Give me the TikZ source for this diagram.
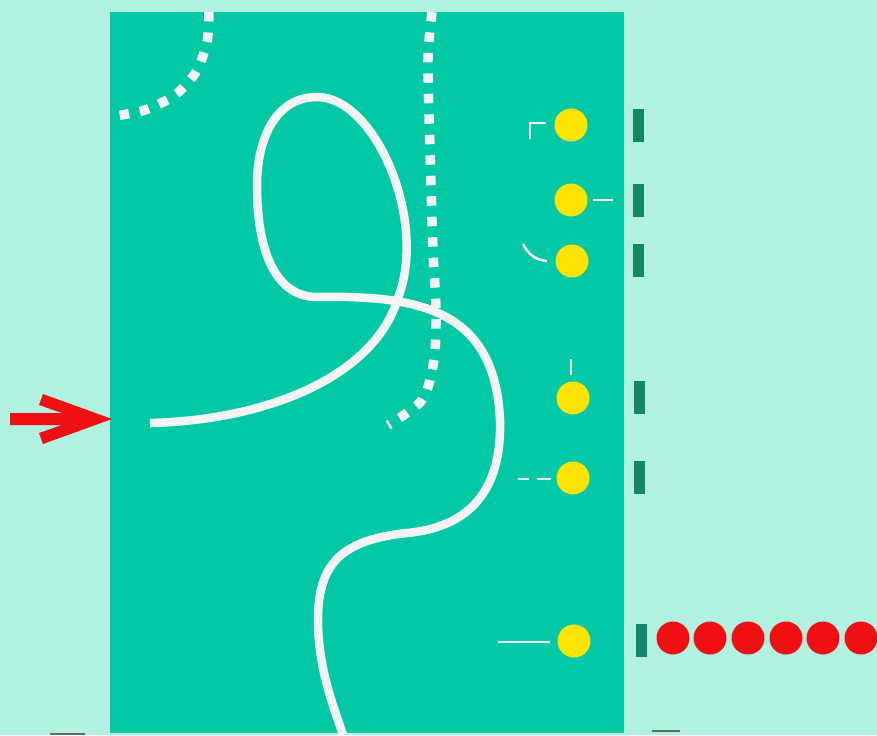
\documentclass[tikz,border=0pt]{standalone}
\usepackage{xcolor}
\usepackage{tikz}
\usetikzlibrary{positioning}

\definecolor{bgcyan}{RGB}{178,240,224}
\definecolor{boardteal}{RGB}{2,200,166}
\definecolor{bargreen}{RGB}{16,135,105}
\definecolor{dotyellow}{RGB}{255,228,0}
\definecolor{dotred}{RGB}{238,16,18}
\definecolor{wirewhite}{RGB}{243,243,243}
\definecolor{stubgray}{RGB}{90,110,100}

\begin{document}
\begin{tikzpicture}[x=0.02cm,y=-0.02cm]
\tikzstyle{ydot}=[circle,fill=dotyellow,minimum size=0.66cm,inner sep=0pt]
\tikzstyle{rdot}=[circle,fill=dotred,minimum size=0.66cm,inner sep=0pt]
\tikzstyle{bar}=[rectangle,fill=bargreen,minimum width=0.22cm,minimum height=0.66cm,inner sep=0pt]
\tikzstyle{wire}=[draw=wirewhite,line width=0.17cm]
\tikzstyle{track}=[draw=wirewhite,line width=0.19cm,dash pattern=on 0.19cm off 0.22cm]
\tikzstyle{tick}=[draw=wirewhite,line width=0.05cm]

\useasboundingbox (0,0) rectangle (877,735);
% Background
\fill[bgcyan] (0,0) rectangle (877,735);
\fill[boardteal] (110,12) rectangle (624,733);

% Dotted tracks
\draw[track] plot[smooth] coordinates {(209,12) (207,42) (196,72) (175,95) (145,110) (115,116)};
\draw[track] plot[smooth] coordinates {(432,12) (428,60) (430,150) (433,250) (436,310) (434,360) (422,400) (388,425)};

% Main wire
\draw[wire] (150,423) .. controls (270,420) and (375,375) .. (398,298)
  .. controls (428,220) and (375,97) .. (317,97)
  .. controls (275,97) and (257,140) .. (257,185)
  .. controls (257,260) and (280,297) .. (317,297)
  .. controls (420,295) and (495,310) .. (500,420)
  .. controls (502,490) and (470,527) .. (407,533)
  .. controls (340,540) and (318,565) .. (318,620)
  .. controls (318,670) and (335,710) .. (343,735);

% Yellow dots
\node[ydot] (y1) at (571,125) {};
\node[ydot] (y2) at (571,200) {};
\node[ydot] (y3) at (572,261) {};
\node[ydot] (y4) at (573,398) {};
\node[ydot] (y5) at (573,478) {};
\node[ydot] (y6) at (574,641) {};

% Marks beside the dots
\draw[tick] (530,139) -- (530,123) -- (546,123);
\draw[tick] (593,200) -- (613,200);
\draw[tick] (523,244) .. controls (529,256) and (537,260) .. (547,261);
\draw[tick] (571,359) -- (571,375);
\draw[tick] (518,479) -- (529,479);
\draw[tick] (537,479) -- (551,479);
\draw[tick] (498,642) -- (550,642);

% Bars
\node[bar] (b1) at (638,125) {};
\node[bar] (b2) at (638,200) {};
\node[bar] (b3) at (638,260) {};
\node[bar] (b4) at (639,397) {};
\node[bar] (b5) at (639,477) {};
\node[bar] (b6) at (641,640) {};

% Red dots
\node[rdot] (r1) at (673,638) {};
\node[rdot] (r2) at (710,638) {};
\node[rdot] (r3) at (748,638) {};
\node[rdot] (r4) at (786,638) {};
\node[rdot] (r5) at (823,638) {};
\node[rdot] (r6) at (861,638) {};

% Arrow
\fill[dotred] (10,413) -- (62,413) -- (39,405) -- (43,394) -- (112,419) -- (43,444) -- (39,433) -- (62,425) -- (10,425) -- cycle;

% Stubs at the bottom edge
\draw[stubgray,line width=0.04cm] (50,734) -- (85,734);
\draw[stubgray,line width=0.04cm] (652,731) -- (680,731);

\end{tikzpicture}
\end{document}
